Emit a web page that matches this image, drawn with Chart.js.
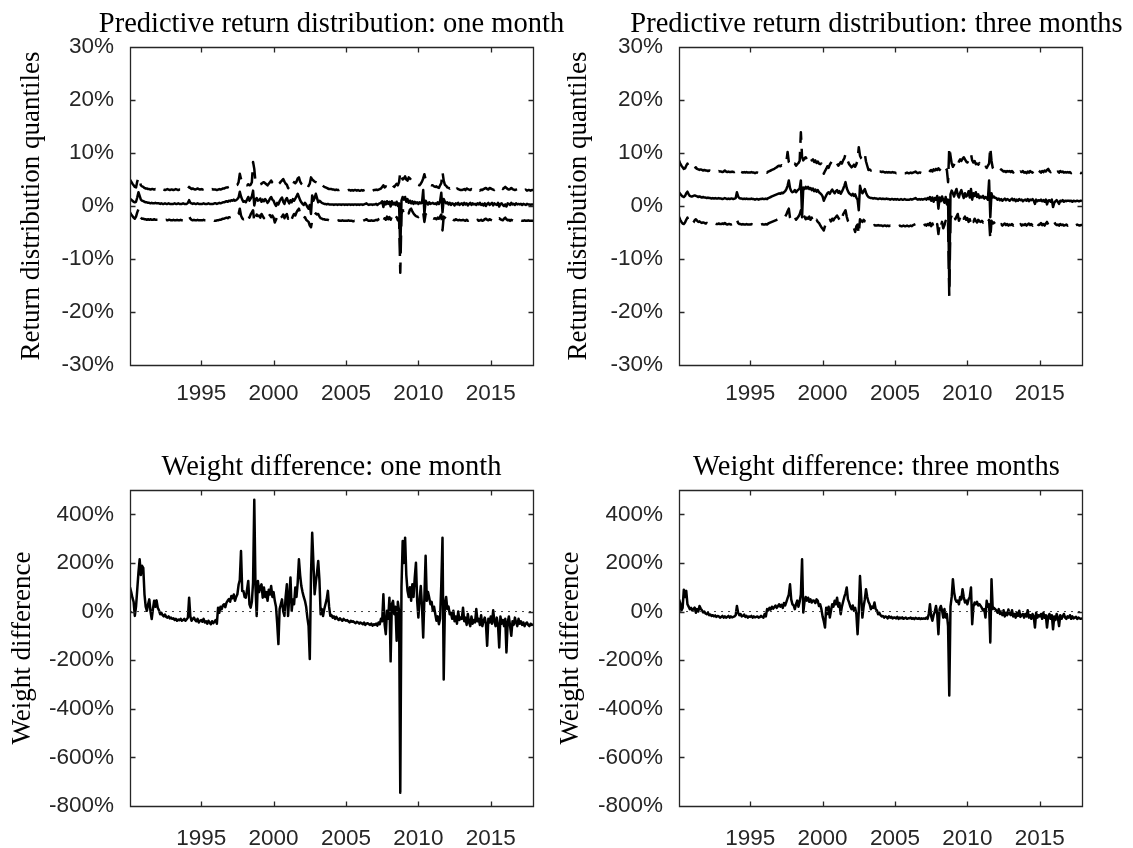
<!DOCTYPE html>
<html>
<head>
<meta charset="utf-8">
<script src="https://cdn.jsdelivr.net/npm/chart.js@4.4.1/dist/chart.umd.min.js"></script>
<style>
html,body{margin:0;padding:0;background:#fff;}
#wrap{position:relative;width:1133px;height:848px;overflow:hidden;background:#fff;}
#wrap canvas{position:absolute;}
#msg{position:absolute;left:400px;top:400px;color:red;font:14px sans-serif;}
</style>
</head>
<body>
<div id="wrap">
<canvas id="c1" width="600" height="420" style="left:0;top:0"></canvas>
<canvas id="c2" width="593" height="420" style="left:540px;top:0"></canvas>
<canvas id="c3" width="600" height="428" style="left:0;top:420px"></canvas>
<canvas id="c4" width="593" height="428" style="left:540px;top:420px"></canvas>
<div id="msg"></div>
</div>
<script>
// ---- Monthly observations, Feb 1990 .. Dec 2017 (one row per year) ----
const firstYear = 1990, firstMonth = 2, nMonths = 335;

const xTicks = [1995, 2000, 2005, 2010, 2015];
const retTicks = [-30, -20, -10, 0, 10, 20, 30];
const wTicks = [-800, -600, -400, -200, 0, 200, 400];

const titles = [
  'Predictive return distribution: one month',
  'Predictive return distribution: three months',
  'Weight difference: one month',
  'Weight difference: three months'
];
const yTitles = ['Return distribution quantiles', 'Return distribution quantiles', 'Weight difference', 'Weight difference'];

// one-month predictive return quantiles (%)
const up1 = [
 5.0,4.6,4.2,3.9,3.6,3.5,4.6,5.4,4.8,3.9,3.7,
 3.6,3.4,3.3,3.3,3.2,3.2,3.1,3.2,3.2,3.1,3.2,3.1,
 3.1,3.2,3.0,3.1,3.2,3.1,3.0,3.1,3.2,3.1,3.0,3.1,
 3.1,3.0,3.1,3.2,3.1,3.0,3.1,3.1,3.0,3.1,3.2,3.1,
 3.1,3.3,3.6,3.4,3.2,3.3,3.2,3.1,3.2,3.3,3.2,3.1,
 3.2,3.1,3.2,3.1,3.0,3.1,3.1,3.0,3.1,3.2,3.1,3.1,
 3.1,3.0,3.1,3.2,3.1,3.2,3.3,3.3,3.4,3.5,3.5,3.6,
 3.7,3.8,3.7,3.9,3.8,3.9,4.0,4.5,6.1,5.1,4.5,4.2,
 4.3,4.0,3.9,4.1,3.9,4.0,4.5,8.3,7.0,4.5,4.3,4.2,
 4.2,4.1,4.2,4.4,4.5,4.3,4.1,3.9,4.2,4.5,4.8,4.4,
 4.2,4.4,4.6,4.2,4.1,4.3,4.6,4.8,5.1,4.6,4.2,4.0,
 3.4,3.2,3.6,4.2,4.0,4.5,4.3,4.6,5.2,5.4,4.6,4.2,
 4.0,3.6,3.4,3.2,3.4,3.8,4.2,5.4,5.0,4.8,4.6,4.5,
 4.4,4.2,3.9,4.2,4.0,3.8,3.6,3.5,3.4,3.3,3.2,3.2,
 3.2,3.1,3.1,3.0,3.1,3.0,3.0,3.1,3.0,2.9,3.0,3.0,
 3.0,2.9,3.0,3.0,2.9,3.0,2.9,3.0,3.0,2.9,3.0,2.9,
 2.9,3.0,2.9,3.0,3.1,3.2,3.0,2.9,3.0,3.0,2.9,3.0,
 3.0,3.1,3.0,3.1,3.2,3.3,3.6,3.9,3.5,3.7,3.6,3.8,
 3.9,3.7,4.1,3.8,3.6,3.9,4.2,3.9,4.5,6.4,5.5,5.0,
 5.2,5.6,5.0,4.8,5.4,5.2,4.9,4.6,4.5,4.4,4.2,4.1,
 4.0,3.9,4.2,4.6,5.2,6.0,5.0,4.8,4.4,4.2,4.0,3.9,
 3.9,3.7,3.6,3.7,3.5,3.4,3.9,4.3,6.4,4.8,4.0,3.8,
 3.5,3.4,3.3,3.5,3.2,3.4,3.2,3.1,3.3,3.2,3.1,3.0,
 3.0,3.1,3.2,3.0,3.3,3.2,3.1,3.0,3.2,3.1,3.0,3.1,
 3.0,3.2,3.0,2.9,3.1,3.0,3.2,3.3,3.4,3.2,3.1,3.4,
 3.3,3.2,3.1,3.0,3.2,3.1,3.3,3.5,3.4,3.3,3.2,3.4,
 3.6,3.4,3.2,3.1,3.2,3.4,3.2,3.1,3.0,3.1,3.2,3.0,
 3.0,3.1,2.9,3.0,3.0,3.1,2.9,3.0,3.0,2.9,3.0,3.0
];
const med1 = [
 1.4,1.2,1.0,0.8,0.7,0.8,1.6,2.6,1.9,1.2,1.0,
 0.9,0.8,0.7,0.7,0.6,0.6,0.5,0.6,0.5,0.5,0.6,0.5,
 0.5,0.5,0.4,0.5,0.4,0.4,0.5,0.4,0.4,0.5,0.4,0.4,
 0.4,0.4,0.5,0.4,0.4,0.5,0.4,0.4,0.4,0.5,0.4,0.4,
 0.4,0.6,1.1,0.6,0.5,0.4,0.5,0.4,0.4,0.5,0.4,0.4,
 0.4,0.4,0.5,0.4,0.4,0.4,0.5,0.4,0.4,0.4,0.4,0.5,
 0.5,0.4,0.5,0.6,0.5,0.6,0.7,0.7,0.8,0.9,0.8,1.0,
 0.9,1.1,1.0,1.2,1.0,1.1,1.3,1.6,2.7,1.8,1.2,0.8,
 0.9,0.7,1.2,1.7,1.0,1.4,1.8,2.9,0.1,1.2,1.5,1.0,
 1.1,1.4,0.8,1.2,0.9,1.3,1.0,0.6,0.9,1.4,1.7,1.2,
 1.0,0.4,0.0,0.6,0.3,0.9,1.3,1.6,0.8,0.4,1.2,1.5,
 0.9,0.5,1.1,0.7,1.3,1.0,1.4,1.8,2.3,1.7,1.1,0.7,
 0.4,0.2,0.6,0.3,-0.2,-0.5,0.2,-1.5,2.0,1.0,1.5,2.3,
 1.5,0.7,1.0,0.8,0.6,0.5,0.4,0.4,0.3,0.4,0.3,0.3,
 0.3,0.3,0.2,0.3,0.3,0.2,0.3,0.3,0.2,0.3,0.3,0.2,
 0.3,0.2,0.3,0.3,0.2,0.3,0.2,0.3,0.3,0.2,0.3,0.2,
 0.3,0.3,0.2,0.3,0.4,0.5,0.3,0.2,0.3,0.3,0.2,0.3,
 0.3,0.4,0.2,0.4,0.5,0.6,0.9,-0.2,0.8,0.3,0.9,0.4,
 0.8,-0.1,0.9,0.3,0.6,0.2,0.8,0.0,0.5,-8.5,1.0,1.7,
 1.2,1.7,0.8,1.3,0.6,1.0,0.5,0.9,0.4,0.8,0.5,0.7,
 0.4,0.7,0.5,0.6,3.0,-1.5,1.0,0.6,0.3,0.7,0.4,0.5,
 0.6,0.4,0.5,0.3,0.7,0.4,0.9,2.5,-1.2,1.3,0.8,0.5,
 0.7,0.3,0.6,0.2,0.5,0.4,0.1,0.5,0.3,0.6,0.2,0.4,
 0.5,0.2,0.6,0.3,0.5,0.1,0.4,0.6,0.2,0.5,0.3,0.4,
 0.2,0.5,0.3,0.6,0.2,0.4,0.1,0.5,0.0,0.4,0.6,0.2,
 0.4,0.6,0.1,0.5,0.3,0.2,0.6,-0.1,0.4,0.5,0.2,0.0,
 0.3,-0.1,0.5,0.4,0.2,0.6,0.3,0.4,0.2,0.5,0.3,0.4,
 0.3,0.4,0.2,0.4,0.3,0.2,0.4,0.3,0.3,0.2,0.3,0.3
];
const lo1 = [
 -1.2,-1.6,-1.9,-2.2,-2.4,-2.0,-1.2,-0.6,-1.5,-2.2,-2.4,
 -2.4,-2.5,-2.5,-2.6,-2.5,-2.6,-2.5,-2.6,-2.6,-2.5,-2.6,-2.6,
 -2.6,-2.5,-2.6,-2.7,-2.6,-2.6,-2.7,-2.6,-2.7,-2.6,-2.6,-2.7,
 -2.7,-2.6,-2.7,-2.7,-2.6,-2.7,-2.7,-2.6,-2.7,-2.7,-2.6,-2.7,
 -2.6,-2.4,-2.0,-2.4,-2.6,-2.7,-2.6,-2.7,-2.7,-2.6,-2.7,-2.7,
 -2.7,-2.7,-2.6,-2.7,-2.7,-2.8,-2.7,-2.7,-2.8,-2.7,-2.7,-2.8,
 -2.8,-2.7,-2.7,-2.6,-2.6,-2.5,-2.4,-2.4,-2.3,-2.2,-2.3,-2.1,
 -2.1,-2.0,-2.1,-1.9,-2.0,-1.8,-1.7,-1.5,-0.5,-1.8,-2.3,-2.5,
 -2.4,-2.0,-1.5,-1.8,-2.2,-1.6,-1.2,-0.8,-3.0,-2.2,-1.6,-1.9,
 -1.8,-2.2,-1.5,-1.9,-2.3,-1.8,-2.0,-2.4,-1.9,-1.7,-2.1,-1.8,
 -2.2,-3.1,-2.6,-2.0,-2.4,-1.9,-2.2,-2.0,-1.6,-2.3,-1.8,-1.5,
 -2.4,-2.1,-1.7,-2.5,-1.9,-1.5,-1.8,-1.2,-0.8,-0.5,-1.4,-1.8,
 -2.2,-2.4,-2.1,-2.6,-2.8,-3.0,-3.7,-4.0,-2.8,-2.0,-1.7,-1.4,
 -1.6,-1.5,-2.0,-2.3,-2.4,-2.5,-2.5,-2.6,-2.6,-2.6,-2.7,-2.7,
 -2.7,-2.7,-2.8,-2.7,-2.7,-2.8,-2.7,-2.8,-2.8,-2.7,-2.8,-2.8,
 -2.8,-2.8,-2.7,-2.8,-2.8,-2.8,-2.9,-2.8,-2.8,-2.9,-2.8,-2.8,
 -2.8,-2.9,-2.8,-2.7,-2.6,-2.5,-2.7,-2.8,-2.8,-2.7,-2.8,-2.8,
 -2.7,-2.6,-2.7,-2.5,-2.4,-2.6,-2.2,-2.8,-2.3,-2.6,-2.0,-2.5,
 -2.1,-2.6,-2.0,-2.4,-2.2,-2.6,-2.1,-2.7,-2.3,-12.6,-1.5,-0.8,
 -0.9,-0.8,-1.3,-0.9,-1.4,-0.7,-0.5,-1.0,-1.4,-1.7,-1.9,-2.0,
 -2.1,-1.9,-1.6,-1.8,-1.2,-3.0,-1.5,-1.8,-2.2,-2.3,-2.4,-2.2,
 -2.3,-2.4,-2.3,-2.5,-2.2,-2.4,-2.0,-1.6,-4.6,-2.0,-2.2,-2.4,
 -2.3,-2.5,-2.4,-2.6,-2.4,-2.6,-2.7,-2.5,-2.6,-2.7,-2.6,-2.7,
 -2.7,-2.6,-2.7,-2.8,-2.6,-2.8,-2.7,-2.6,-2.8,-2.7,-2.7,-2.8,
 -2.7,-2.6,-2.8,-2.7,-2.6,-2.8,-2.7,-2.5,-2.4,-2.6,-2.7,-2.5,
 -2.6,-2.7,-2.8,-2.6,-2.5,-2.7,-2.4,-2.3,-2.5,-2.6,-2.7,-2.4,
 -2.2,-2.5,-2.7,-2.6,-2.8,-2.6,-2.7,-2.8,-2.7,-2.8,-2.7,-2.8,
 -2.8,-2.7,-2.8,-2.8,-2.7,-2.8,-2.8,-2.7,-2.8,-2.8,-2.8,-2.8
];

// three-month predictive return quantiles (%)
const up3 = [
 8.6,8.0,7.6,7.3,7.0,7.1,7.6,8.0,7.5,7.2,7.0,
 7.0,6.9,7.1,7.3,7.0,6.9,6.8,6.9,6.8,6.7,6.8,6.7,
 6.7,6.6,6.7,6.6,6.5,6.6,6.5,6.6,6.5,6.5,6.6,6.5,
 6.5,6.4,6.5,6.7,6.5,6.4,6.5,6.4,6.4,6.5,6.4,6.4,
 6.5,6.9,6.6,6.4,6.5,6.4,6.3,6.4,6.3,6.4,6.3,6.3,
 6.3,6.4,6.3,6.3,6.2,6.3,6.3,6.2,6.3,6.3,6.4,6.3,
 6.3,6.4,6.3,6.5,6.6,6.7,6.8,6.9,7.0,7.2,7.3,7.5,
 7.6,7.5,7.7,7.6,7.8,8.0,8.4,10.2,8.3,8.0,7.8,8.2,
 7.8,8.0,7.6,7.9,8.1,8.5,13.9,9.2,8.6,9.0,9.2,8.8,
 8.5,8.9,9.2,8.6,8.8,8.3,8.6,8.1,8.4,8.0,7.9,8.0,
 7.4,6.1,6.6,7.0,7.5,7.2,7.8,8.2,8.6,8.3,7.9,8.1,
 8.0,7.6,7.9,8.3,8.0,8.6,9.0,9.8,9.2,8.4,7.9,7.6,
 7.3,7.5,7.8,7.4,7.9,8.6,11.1,9.5,9.0,8.8,9.2,9.8,
 8.4,7.6,6.8,6.9,6.7,6.8,6.6,6.7,6.6,6.5,6.6,6.5,
 6.5,6.4,6.5,6.4,6.3,6.4,6.3,6.4,6.3,6.3,6.4,6.3,
 6.3,6.2,6.3,6.2,6.3,6.2,6.2,6.3,6.2,6.2,6.3,6.2,
 6.2,6.3,6.2,6.3,6.4,6.5,6.3,6.2,6.3,6.3,6.2,6.3,
 6.3,6.4,6.3,6.4,6.3,6.6,6.8,6.5,6.9,6.7,7.0,6.8,
 7.1,6.8,7.2,6.9,7.0,6.7,7.1,6.8,4.5,11.1,9.5,8.0,
 7.4,7.8,8.2,8.0,7.6,8.4,8.8,8.5,8.9,9.2,8.8,8.4,
 8.2,8.6,9.0,9.8,8.6,8.2,8.5,7.9,8.0,7.8,8.1,7.6,
 7.4,7.3,7.1,7.4,7.2,7.6,8.0,11.1,8.5,7.2,6.9,6.8,
 6.9,6.7,6.8,6.6,6.9,6.7,6.5,6.6,6.4,6.6,6.5,6.6,
 6.4,6.6,6.3,6.5,6.7,6.4,6.6,6.3,6.5,6.4,6.6,6.3,
 6.4,6.2,6.5,6.3,6.6,6.4,6.3,6.6,6.9,6.4,6.5,6.7,
 6.5,6.3,6.6,6.4,6.7,6.5,6.8,7.0,6.6,6.4,6.7,6.9,
 7.0,6.6,6.4,6.5,6.3,6.6,6.4,6.5,6.3,6.4,6.3,6.4,
 6.3,6.4,6.2,6.3,6.4,6.3,6.2,6.3,6.4,6.3,6.2,6.3
];
const med3 = [
 2.6,2.3,2.0,1.8,1.7,1.9,2.4,2.7,2.2,1.9,1.8,
 1.8,1.9,2.0,1.9,1.8,1.7,1.8,1.7,1.6,1.7,1.6,1.6,
 1.5,1.6,1.5,1.5,1.4,1.5,1.4,1.5,1.4,1.4,1.5,1.4,
 1.4,1.3,1.4,1.5,1.4,1.3,1.4,1.3,1.4,1.4,1.3,1.4,
 1.5,2.6,1.8,1.5,1.4,1.4,1.3,1.4,1.3,1.4,1.3,1.3,
 1.3,1.4,1.3,1.3,1.2,1.3,1.3,1.2,1.3,1.3,1.4,1.3,
 1.3,1.4,1.3,1.5,1.6,1.7,1.8,1.9,2.0,2.1,2.2,2.3,
 2.4,2.3,2.5,2.4,2.6,2.8,3.2,3.8,4.8,3.4,2.8,2.6,
 2.7,3.0,2.6,2.9,3.1,3.3,4.8,-2.1,3.5,3.2,3.6,3.3,
 3.6,3.2,3.4,3.0,3.3,2.8,3.1,2.7,3.0,2.6,2.4,2.2,
 1.8,1.0,1.5,2.0,2.4,2.6,2.3,2.8,3.1,2.7,2.4,2.8,
 3.0,2.5,2.8,2.3,2.7,3.2,3.8,4.5,3.4,2.8,2.4,2.2,
 2.0,2.3,1.9,2.2,1.6,1.2,-0.8,3.8,2.9,2.4,2.8,3.2,
 2.5,2.0,1.7,1.6,1.5,1.5,1.4,1.5,1.4,1.4,1.3,1.4,
 1.4,1.3,1.4,1.3,1.3,1.4,1.3,1.3,1.2,1.3,1.3,1.2,
 1.3,1.2,1.3,1.2,1.2,1.3,1.2,1.2,1.3,1.2,1.2,1.2,
 1.2,1.3,1.2,1.3,1.4,1.5,1.3,1.2,1.3,1.2,1.3,1.2,
 1.3,1.4,1.2,1.5,1.3,1.7,1.0,1.6,0.8,1.5,1.2,1.9,
 -0.5,1.6,0.9,1.8,1.1,0.6,1.7,0.3,1.2,-15.0,2.2,2.9,
 2.4,1.8,2.6,3.2,2.1,1.6,2.5,3.0,2.2,1.5,2.4,1.8,
 2.0,2.8,1.6,3.2,1.2,2.4,1.9,2.6,1.7,2.2,1.5,1.8,
 1.6,1.9,1.4,1.7,1.5,1.2,4.8,-2.1,2.4,1.6,1.8,1.5,
 1.5,1.2,1.4,1.1,1.3,1.0,1.2,1.4,1.1,1.3,1.2,1.0,
 1.2,1.4,1.1,1.3,0.9,1.2,1.0,1.3,1.1,1.2,0.9,1.1,
 1.2,1.0,1.3,0.9,1.2,1.1,1.3,1.0,0.4,1.2,0.9,1.1,
 1.0,1.2,0.9,1.1,0.8,1.2,0.3,1.0,1.1,0.8,1.2,-0.2,
 0.6,0.9,1.1,0.8,0.4,1.0,0.9,1.1,0.8,1.0,0.9,1.0,
 1.0,0.9,1.0,0.8,1.0,0.9,0.9,1.0,0.9,0.9,1.0,0.9
];
const lo3 = [
 -2.0,-2.6,-3.0,-3.3,-3.4,-3.1,-2.6,-2.2,-2.9,-3.3,-3.4,
 -3.3,-3.1,-2.7,-2.5,-2.8,-3.0,-2.9,-3.1,-3.2,-3.1,-3.2,-3.3,
 -3.2,-3.3,-3.2,-3.3,-3.4,-3.3,-3.4,-3.3,-3.4,-3.4,-3.3,-3.4,
 -3.4,-3.3,-3.4,-3.2,-3.4,-3.5,-3.4,-3.4,-3.5,-3.4,-3.5,-3.4,
 -3.3,-2.6,-3.2,-3.4,-3.4,-3.5,-3.4,-3.5,-3.5,-3.4,-3.5,-3.5,
 -3.5,-3.4,-3.5,-3.5,-3.6,-3.5,-3.5,-3.6,-3.5,-3.5,-3.4,-3.5,
 -3.5,-3.4,-3.5,-3.3,-3.2,-3.1,-3.0,-2.9,-2.8,-2.7,-2.6,-2.5,
 -2.4,-2.5,-2.4,-2.3,-2.2,-2.0,-1.6,-1.0,-0.5,-2.2,-2.8,-2.6,
 -2.4,-2.1,-2.6,-2.3,-2.0,-1.6,-0.8,-2.8,-2.3,-2.0,-2.5,-2.2,
 -2.4,-2.0,-2.6,-2.2,-2.8,-2.4,-2.9,-2.6,-3.0,-3.2,-3.6,-4.0,
 -4.3,-4.6,-3.8,-3.2,-2.8,-3.0,-2.6,-2.9,-2.4,-2.7,-2.3,-2.1,
 -1.8,-2.2,-2.6,-2.0,-2.4,-1.6,-1.2,-0.8,-2.0,-2.8,-3.0,-3.4,
 -3.6,-3.9,-4.2,-4.9,-3.8,-3.5,-5.3,-2.5,-2.8,-3.0,-2.6,-2.9,
 -3.0,-3.1,-3.3,-3.4,-3.5,-3.6,-3.7,-3.6,-3.7,-3.7,-3.6,-3.7,
 -3.7,-3.7,-3.8,-3.7,-3.7,-3.8,-3.7,-3.8,-3.7,-3.7,-3.8,-3.7,
 -3.8,-3.7,-3.8,-3.8,-3.7,-3.8,-3.8,-3.7,-3.8,-3.8,-3.7,-3.8,
 -3.8,-3.7,-3.8,-3.6,-3.5,-3.4,-3.6,-3.7,-3.7,-3.6,-3.7,-3.7,
 -3.6,-3.5,-3.7,-3.4,-3.6,-3.2,-3.8,-3.3,-4.0,-3.5,-3.9,-3.4,
 -5.3,-3.2,-3.8,-3.0,-4.2,-3.6,-2.8,-4.0,-3.4,-17.0,-2.4,-1.8,
 -2.2,-1.6,-2.5,-2.0,-1.5,-2.8,-2.2,-1.6,-1.5,-2.4,-2.0,-2.6,
 -2.3,-3.0,-2.5,-3.4,-2.6,-3.0,-2.4,-2.8,-3.1,-2.6,-2.9,-3.0,
 -2.8,-3.1,-2.9,-3.2,-2.7,-3.0,-2.6,-6.2,-2.8,-3.3,-3.1,-3.4,
 -3.2,-3.5,-3.3,-3.6,-3.4,-3.7,-3.5,-3.3,-3.6,-3.4,-3.7,-3.5,
 -3.6,-3.4,-3.7,-3.5,-3.3,-3.6,-3.8,-3.5,-3.4,-3.7,-3.5,-3.6,
 -3.4,-3.7,-3.5,-3.3,-3.6,-3.4,-3.7,-3.2,-3.0,-3.5,-3.4,-3.6,
 -3.5,-3.2,-3.6,-3.4,-3.7,-3.3,-3.0,-3.5,-3.6,-3.3,-3.5,-3.2,
 -3.0,-3.4,-3.6,-3.5,-3.7,-3.4,-3.6,-3.5,-3.7,-3.6,-3.5,-3.7,
 -3.6,-3.5,-3.7,-3.6,-3.5,-3.7,-3.6,-3.5,-3.6,-3.7,-3.6,-3.6
];

// weight differences (%)
const wd1 = [
 100,80,57,40,-18,20,90,160,215,150,188,
 180,71,20,3,30,50,0,-31,10,44,20,46,
 16,5,-11,-5,-15,-20,-12,-22,-25,-20,-28,-25,
 -30,-28,-35,-30,-38,-33,-36,-30,-38,-35,-30,-38,
 -32,-25,57,-20,-38,-30,-25,-35,-40,-30,-45,-38,
 -35,-42,-30,-45,-40,-50,-38,-45,-52,-40,-48,-42,
 -35,-50,16,-5,20,10,25,30,18,37,45,51,
 40,64,55,70,44,60,71,110,130,249,85,85,
 60,57,90,126,30,16,40,120,460,100,-18,126,
 80,100,112,57,99,60,80,44,90,70,105,60,
 80,44,20,-50,-134,10,30,50,0,-18,60,112,
 -18,60,140,3,50,30,99,60,120,215,150,105,
 80,60,44,20,-25,-60,-195,150,324,200,71,120,
 160,208,130,-11,10,-18,10,30,50,85,20,-18,
 -15,-25,-20,-30,-22,-30,-35,-28,-33,-38,-30,-35,
 -38,-35,-40,-45,-38,-42,-40,-45,-48,-42,-45,-50,
 -45,-48,-52,-45,-55,-50,-48,-52,-55,-50,-58,-52,
 -55,-50,-58,-45,-52,-30,-40,71,-52,-93,3,-30,
 57,-205,30,44,-11,20,-120,40,3,-745,100,290,
 200,304,150,85,60,100,44,112,60,140,201,44,
 -25,50,105,20,-107,60,229,44,80,57,30,40,
 3,20,-10,-38,-20,-52,-30,112,304,-280,30,60,
 10,20,-11,-5,-30,3,-40,-20,-50,0,-35,-25,
 -30,16,-40,-25,-55,-10,-45,-60,-20,-50,-35,-45,
 10,-40,-30,-55,-15,-60,-40,-25,-50,-141,-30,-45,
 -20,-50,5,-40,-60,-25,-55,-148,-20,-50,-35,-60,
 -30,-168,-45,-20,-60,-100,-40,-55,-25,-45,-60,-30,
 -50,-40,-55,-45,-60,-50,-45,-55,-60,-50,-55,-52
];
const wd3 = [
 50,35,5,15,90,60,85,30,20,10,15,
 5,10,16,-5,10,0,23,12,5,-4,0,-8,
 -11,-5,-15,-12,-18,-15,-20,-16,-22,-18,-20,-25,
 -22,-18,-25,-20,-25,-22,-18,-25,-20,-24,-22,-20,
 -15,23,-5,-15,-10,-20,-18,-12,-22,-18,-25,-20,
 -22,-18,-25,-20,-24,-22,-20,-25,-23,-18,-22,-25,
 -10,-20,10,5,15,8,20,12,18,25,15,22,
 30,20,28,15,35,25,40,55,70,112,50,30,
 25,10,30,45,20,40,70,215,-4,40,60,45,
 57,40,50,37,45,44,35,50,44,23,30,10,
 -20,-40,-66,16,-10,20,-25,5,30,20,44,30,
 57,20,35,-11,20,40,60,75,99,50,37,20,
 10,25,3,15,-10,-93,0,146,60,-25,20,50,
 92,60,40,30,10,20,15,37,10,5,-11,-5,
 -15,-20,-18,-25,-20,-22,-28,-20,-25,-22,-28,-25,
 -25,-28,-22,-30,-25,-28,-24,-30,-27,-25,-30,-28,
 -28,-25,-30,-27,-31,-26,-29,-30,-27,-31,-28,-30,
 -28,-30,-25,-30,-10,30,-20,-38,-15,0,23,-10,
 -93,10,23,5,-25,10,-25,-10,-60,-345,20,60,
 133,80,51,40,45,30,60,50,92,60,37,45,
 30,50,60,99,-52,20,37,30,40,25,30,23,
 15,5,10,-25,44,20,30,-127,133,10,15,10,
 5,-5,10,-10,0,-15,5,-20,-5,-15,8,-10,
 -15,5,-20,-10,-25,-5,-18,3,-22,-15,-10,-25,
 -10,-20,5,-25,-15,-30,-10,-20,-66,-5,-25,-15,
 -20,-10,-30,-5,-25,-15,-66,-20,-10,-30,-15,-73,
 -20,-35,-10,-25,-60,-15,-30,-20,-10,-25,-30,-20,
 -25,-15,-30,-20,-28,-25,-22,-30,-25,-28,-30,-27
];

// ---- checks ----
const named = {up1, med1, lo1, up3, med3, lo3, wd1, wd3};
const bad = Object.entries(named).filter(([k, a]) => a.length !== nMonths).map(([k, a]) => k + '=' + a.length);
if (bad.length) document.getElementById('msg').textContent = 'length mismatch: ' + bad.join(', ');

// month dates as decimal years
const dates = Array.from({length: nMonths}, (_, i) => firstYear + (firstMonth - 1 + i) / 12);
const xMin = dates[0], xMax = dates[nMonths - 1];
const pts = arr => arr.map((v, i) => ({x: dates[i], y: v}));

const SERIF = "'Liberation Serif', 'Times New Roman', serif";
const SANS = "'Liberation Sans', Arial, sans-serif";
const INK = '#262626';

// axes box with inward ticks on all four sides (MATLAB style)
const framePlugin = {
  id: 'frame',
  afterDatasetsDraw(chart) {
    const {ctx, chartArea: a, scales} = chart;
    const x = scales.x, y = scales.y;
    const L = Math.round(a.left) + 0.5, R = Math.round(a.right) + 0.5;
    const T = Math.round(a.top) + 0.5, B = Math.round(a.bottom) + 0.5;
    ctx.save();
    ctx.strokeStyle = INK;
    ctx.lineWidth = 1.3;
    ctx.beginPath();
    ctx.rect(L, T, R - L, B - T);
    const tl = 5;
    x.ticks.forEach(t => {
      const px = Math.round(x.getPixelForValue(t.value)) + 0.5;
      ctx.moveTo(px, B); ctx.lineTo(px, B - tl);
      ctx.moveTo(px, T); ctx.lineTo(px, T + tl);
    });
    y.ticks.forEach(t => {
      const py = Math.round(y.getPixelForValue(t.value)) + 0.5;
      ctx.moveTo(L, py); ctx.lineTo(L + tl, py);
      ctx.moveTo(R, py); ctx.lineTo(R - tl, py);
    });
    ctx.stroke();
    ctx.restore();
  }
};

// panel title centred over the axes box (may overhang it, as in the original)
const titlePlugin = {
  id: 'panelTitle',
  afterDraw(chart, args, opts) {
    const {ctx, chartArea: a} = chart;
    ctx.save();
    ctx.font = opts.size + 'px ' + SERIF;
    ctx.fillStyle = '#000';
    ctx.textAlign = 'center';
    ctx.textBaseline = 'alphabetic';
    ctx.fillText(opts.text, (a.left + a.right) / 2 + (opts.dx || 0), opts.baseline);
    ctx.restore();
  }
};

function makePanel(id, o) {
  const lineBase = {pointRadius: 0, tension: 0, borderColor: '#000', borderWidth: 2.5, borderJoinStyle: 'round', fill: false};
  return new Chart(document.getElementById(id), {
    type: 'line',
    data: {datasets: o.datasets.map(d => Object.assign({}, lineBase, d))},
    plugins: [framePlugin, titlePlugin],
    options: {
      responsive: false,
      devicePixelRatio: 1,
      animation: false,
      events: [],
      parsing: false,
      layout: {padding: {left: 0, right: o.padRight, top: o.padTop, bottom: 0}},
      plugins: {
        legend: {display: false},
        tooltip: {enabled: false},
        title: {display: false},
        panelTitle: {text: o.title, baseline: o.titleBaseline, size: 28.5, dx: o.titleDx || 0}
      },
      scales: {
        x: {
          type: 'linear', min: xMin, max: xMax,
          afterFit: s => { s.height = o.xHeight; },
          afterBuildTicks: s => { s.ticks = xTicks.map(v => ({value: v})); },
          grid: {display: false, drawTicks: false},
          border: {display: false},
          ticks: {color: INK, padding: o.xPad, font: {family: SANS, size: 22.5}, maxRotation: 0, autoSkip: false,
                  callback: v => String(v)}
        },
        y: {
          type: 'linear', min: o.yMin, max: o.yMax,
          afterFit: s => { s.width = o.yWidth; },
          afterBuildTicks: s => { s.ticks = o.yTicks.map(v => ({value: v})); },
          grid: {display: false, drawTicks: false},
          border: {display: false},
          ticks: {color: INK, padding: 16, font: {family: SANS, size: 22.5}, autoSkip: false,
                  callback: v => v + '%'},
          title: {display: true, text: o.yTitle, color: '#000',
                  font: {family: SERIF, size: 27, weight: 'normal'},
                  padding: {top: o.yTitlePad, bottom: 0}}
        }
      }
    }
  });
}

const dashed = [18, 9];
const zeroLine = {data: [{x: xMin, y: 0}, {x: xMax, y: 0}], borderColor: '#444', borderWidth: 1, borderDash: [2, 5], borderJoinStyle: 'miter'};

makePanel('c1', {
  title: titles[0], yTitle: yTitles[0], yMin: -30, yMax: 30, yTicks: retTicks,
  padRight: 67, padTop: 47, yWidth: 130, xHeight: 55, xPad: 15.5, titleBaseline: 32.3, yTitlePad: 15.8,
  datasets: [{data: pts(up1), borderDash: dashed}, {data: pts(lo1), borderDash: dashed}, {data: pts(med1)}]
});
makePanel('c2', {
  title: titles[1], yTitle: yTitles[1], yMin: -30, yMax: 30, yTicks: retTicks,
  padRight: 51, padTop: 47, yWidth: 139, xHeight: 55, xPad: 15.5, titleBaseline: 32.3, yTitlePad: 22.8, titleDx: -4,
  datasets: [{data: pts(up3), borderDash: dashed}, {data: pts(lo3), borderDash: dashed}, {data: pts(med3)}]
});
makePanel('c3', {
  title: titles[2], yTitle: yTitles[2], yMin: -800, yMax: 500, yTicks: wTicks,
  padRight: 67, padTop: 70, yWidth: 130, xHeight: 42, xPad: 19, titleBaseline: 55, yTitlePad: 6.3,
  datasets: [zeroLine, {data: pts(wd1)}]
});
makePanel('c4', {
  title: titles[3], yTitle: yTitles[3], yMin: -800, yMax: 500, yTicks: wTicks,
  padRight: 51, padTop: 70, yWidth: 139, xHeight: 42, xPad: 19, titleBaseline: 55, yTitlePad: 14.8, titleDx: -4,
  datasets: [zeroLine, {data: pts(wd3)}]
});
</script>
</body>
</html>
